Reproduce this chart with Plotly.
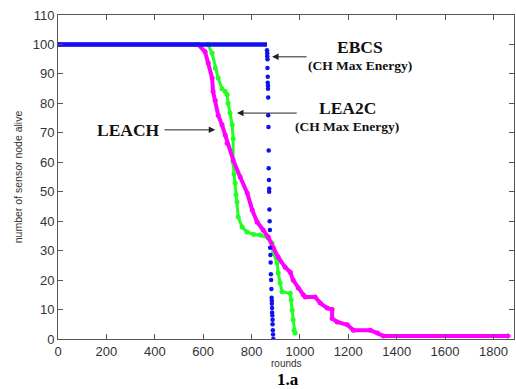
import plotly.graph_objects as go

# EBCS (CH Max Energy): flat part and the drop
ebcs_flat_rounds = [0, 864]
ebcs_flat_alive = [100, 100]
ebcs_drop_rounds = [864, 865, 865, 866, 866, 867, 867, 868, 868, 869, 869, 870,
                    871, 871, 872, 873, 873, 874, 875, 876,
                    877, 878, 879, 880, 881, 882, 883, 884, 884, 885, 885, 886, 887, 887, 888, 889, 890]
ebcs_drop_alive = [98, 97, 96, 95, 92, 89, 87, 86, 85, 82, 76, 72,
                   64, 58, 54, 51, 50, 44, 40, 37,
                   31, 28.5, 26, 22, 20, 17, 14, 13, 12, 10.5, 9, 8, 6.5, 5, 3, 1.5, 0]

# LEA2C (CH Max Energy)
lea2c_rounds = [0, 620, 637, 650, 662, 678, 691, 699, 703, 711, 720, 724, 724, 728,
                732, 736, 740, 745, 761, 782, 810, 836, 869, 885, 890, 906, 910, 918,
                926, 960, 964, 968, 972, 976, 980]
lea2c_alive = [100, 100, 97, 92, 88.6, 85, 84, 83, 80, 76.7, 72.7, 68, 60, 56,
               53, 49, 46.5, 41.4, 38, 36.3, 35.5, 35.3, 34.3, 32.6, 29.2, 25.8, 22.4, 19,
               16, 15.5, 13.2, 9.8, 6.5, 3, 2]

# LEACH
leach_rounds = [0, 579, 608, 621, 637, 641, 650, 662, 678, 691, 699, 724, 753, 782,
                803, 823, 848, 869, 890, 910, 939, 960, 972, 993, 1014, 1022, 1063, 1084,
                1113, 1133, 1133, 1154, 1196, 1221, 1291, 1320, 1345, 1860]
leach_alive = [100, 100, 97.5, 93.7, 88.6, 84, 81, 76, 72.7, 69.3, 66.5, 60.8, 55, 49.6,
               43.8, 39.7, 37, 34.6, 31, 27.8, 24.4, 22.7, 20, 17.3, 15, 14.3, 14.3, 12.2,
               10.5, 10, 7, 5.8, 4.8, 3, 3, 2, 1, 1]

x_ticks = [0, 200, 400, 600, 800, 1000, 1200, 1400, 1600, 1800]
y_ticks = [0, 10, 20, 30, 40, 50, 60, 70, 80, 90, 100, 110]

BLUE = "#1010f0"
GREEN = "#22ff22"
MAGENTA = "#ff00ff"

fig = go.Figure()
fig.add_trace(go.Scatter(x=lea2c_rounds, y=lea2c_alive, mode="lines+markers",
                         line=dict(color=GREEN, width=3),
                         marker=dict(color=GREEN, size=5), showlegend=False))
fig.add_trace(go.Scatter(x=leach_rounds, y=leach_alive, mode="lines+markers",
                         line=dict(color=MAGENTA, width=4),
                         marker=dict(color=MAGENTA, size=5), showlegend=False))
fig.add_trace(go.Scatter(x=ebcs_flat_rounds, y=ebcs_flat_alive, mode="lines",
                         line=dict(color=BLUE, width=4.5), showlegend=False))
fig.add_trace(go.Scatter(x=ebcs_drop_rounds, y=ebcs_drop_alive, mode="markers",
                         marker=dict(color=BLUE, size=4.5), showlegend=False))

serif = "Liberation Serif, Times New Roman, serif"
ann = []
# texts
ann.append(dict(x=1249, y=99.2, xref="x", yref="y", text="<b>EBCS</b>", showarrow=False,
                font=dict(family=serif, size=17.5, color="#111")))
ann.append(dict(x=1249, y=93.0, xref="x", yref="y", text="<b>(CH Max Energy)</b>", showarrow=False,
                font=dict(family=serif, size=13.5, color="#111")))
ann.append(dict(x=1196, y=78.4, xref="x", yref="y", text="<b>LEA2C</b>", showarrow=False,
                font=dict(family=serif, size=17.5, color="#111")))
ann.append(dict(x=1196, y=72.1, xref="x", yref="y", text="<b>(CH Max Energy)</b>", showarrow=False,
                font=dict(family=serif, size=13.5, color="#111")))
ann.append(dict(x=290, y=71, xref="x", yref="y", text="<b>LEACH</b>", showarrow=False,
                font=dict(family=serif, size=17.5, color="#111")))
# arrows
for (hx, hy, tx, ty) in [(885, 95.8, 1034, 95.8), (740, 76.7, 993, 76.7), (650, 71, 434, 71)]:
    ann.append(dict(x=hx, y=hy, ax=tx, ay=ty, xref="x", yref="y", axref="x", ayref="y",
                    text="", showarrow=True, arrowhead=2, arrowsize=1.3, arrowwidth=1,
                    arrowcolor="#222"))
# axis title "rounds" and figure label
ann.append(dict(x=0.50, y=-0.0745, xref="paper", yref="paper", text="rounds", showarrow=False,
                xanchor="center", yanchor="middle", borderpad=0,
                font=dict(size=10, color="#333")))
ann.append(dict(x=0.505, y=-0.094, xref="paper", yref="paper", text="<b>1.a</b>", showarrow=False,
                xanchor="center", yanchor="top", borderpad=0,
                font=dict(family=serif, size=17, color="#000")))

fig.update_layout(
    width=516, height=389,
    margin=dict(l=58, r=2, t=15, b=50),
    paper_bgcolor="white", plot_bgcolor="white",
    font=dict(family="Liberation Sans, Arial, sans-serif", color="#333"),
    annotations=ann,
)
fig.update_xaxes(range=[0, 1885], tickvals=x_ticks, ticktext=[str(v) for v in x_ticks],
                 showgrid=False, zeroline=False, showline=True, linecolor="#555", linewidth=1,
                 mirror="ticks", ticks="inside", ticklen=5, tickcolor="#555",
                 tickfont=dict(size=13, color="#333"))
fig.update_yaxes(range=[0, 110], tickvals=y_ticks, ticktext=[str(v) for v in y_ticks],
                 showgrid=False, zeroline=False, showline=True, linecolor="#555", linewidth=1,
                 mirror="ticks", ticks="inside", ticklen=5, tickcolor="#555",
                 tickfont=dict(size=13, color="#333"),
                 title=dict(text="number of sensor node alive", font=dict(size=10.5, color="#333"),
                            standoff=8))

fig.write_html("out.html")
